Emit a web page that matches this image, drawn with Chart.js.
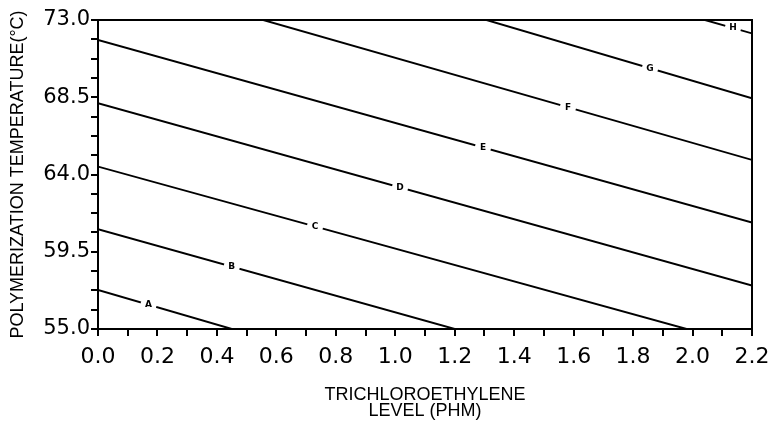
<!DOCTYPE html>
<html>

<head>
  <title>Polymerization temperature vs trichloroethylene level</title>
  <script src="https://cdn.jsdelivr.net/npm/chart.js"></script>
  <style>
    body { margin: 0; background: #fff; }
  </style>
</head>

<body>
  <canvas id="myChart" width="773" height="421"></canvas>
  <script>

    // contour lines A..H, each a straight segment from start to end point
    let curveNames = ['A', 'B', 'C', 'D', 'E', 'F', 'G', 'H'];
    let lineStartX = [0.0, 0.0, 0.0, 0.0, 0.0, 0.556, 1.307, 2.042];
    let lineStartY = [57.27, 60.81, 64.46, 68.15, 71.84, 73.0, 73.0, 73.0];
    let lineEndX = [0.45, 1.20, 1.98, 2.2, 2.2, 2.2, 2.2, 2.2];
    let lineEndY = [55.0, 55.0, 55.0, 57.53, 61.2, 64.85, 68.44, 72.22];
    // where along x each letter sits on its line
    let labelAtX = [0.17, 0.45, 0.73, 1.016, 1.295, 1.581, 1.857, 2.136];

    let xTickLabels = ['0.0', '0.2', '0.4', '0.6', '0.8', '1.0', '1.2', '1.4', '1.6', '1.8', '2.0', '2.2'];
    let yTickLabels = ['55.0', '59.5', '64.0', '68.5', '73.0'];

    let datasets = curveNames.map((name, i) => ({
      label: name,
      data: [{ x: lineStartX[i], y: lineStartY[i] }, { x: lineEndX[i], y: lineEndY[i] }],
      showLine: true,
      borderColor: '#000',
      borderWidth: 1.9,
      pointRadius: 0,
      fill: false
    }));

    // letters on the lines, with a small gap cut out around each one
    let lineLabels = {
      id: 'lineLabels',
      afterDatasetsDraw(chart) {
        let ctx = chart.ctx;
        let xs = chart.scales.x, ys = chart.scales.y;
        ctx.save();
        curveNames.forEach((name, i) => {
          let t = (labelAtX[i] - lineStartX[i]) / (lineEndX[i] - lineStartX[i]);
          let yv = lineStartY[i] + t * (lineEndY[i] - lineStartY[i]);
          let px = xs.getPixelForValue(labelAtX[i]);
          let py = ys.getPixelForValue(yv);
          let angle = Math.atan2(
            ys.getPixelForValue(lineEndY[i]) - ys.getPixelForValue(lineStartY[i]),
            xs.getPixelForValue(lineEndX[i]) - xs.getPixelForValue(lineStartX[i]));
          ctx.save();
          ctx.translate(px, py);
          ctx.rotate(angle);
          ctx.fillStyle = '#fff';
          ctx.fillRect(-8, -4, 16, 8);
          ctx.restore();
          ctx.fillStyle = '#000';
          ctx.font = 'bold 9px "DejaVu Sans"';
          ctx.textAlign = 'center';
          ctx.textBaseline = 'middle';
          ctx.fillText(name, px, py);
        });
        ctx.restore();
      }
    };

    // top and right edges of the plot frame
    let frame = {
      id: 'frame',
      afterDraw(chart) {
        let { left, right, top, bottom } = chart.chartArea;
        let ctx = chart.ctx;
        ctx.save();
        ctx.strokeStyle = '#000';
        ctx.lineWidth = 2;
        ctx.beginPath();
        ctx.moveTo(left, top);
        ctx.lineTo(right, top);
        ctx.lineTo(right, bottom);
        ctx.stroke();
        ctx.restore();
      }
    };

    let ctx = document.getElementById('myChart').getContext('2d');
    let myChart = new Chart(ctx, {
      type: 'scatter',
      data: { datasets: datasets },
      plugins: [lineLabels, frame],
      options: {
        responsive: false,
        animation: false,
        layout: { padding: { top: 20, right: 21, left: 0, bottom: 0 } },
        plugins: {
          legend: { display: false },
          tooltip: { enabled: false }
        },
        scales: {
          x: {
            type: 'linear',
            min: 0,
            max: 2.2,
            afterFit(scale) {
              scale.height = 92;
              scale.paddingLeft = 0;
              scale.paddingRight = 0;
            },
            border: { display: true, color: '#000', width: 2 },
            grid: { drawOnChartArea: false, drawTicks: true, tickLength: 7, lineWidth: 2, color: '#000' },
            ticks: {
              stepSize: 0.1,
              autoSkip: false,
              maxTicksLimit: 30,
              maxRotation: 0,
              padding: 8,
              color: '#000',
              font: { family: '"DejaVu Sans"', size: 22 },
              callback: (value, index) => index % 2 === 0 ? xTickLabels[index / 2] : ''
            },
            title: {
              display: true,
              text: ['TRICHLOROETHYLENE', 'LEVEL (PHM)'],
              color: '#000',
              font: { family: '"Liberation Sans"', size: 18, lineHeight: 0.9 },
              padding: { top: 0, bottom: 2 }
            }
          },
          y: {
            min: 55,
            max: 73,
            afterFit(scale) { scale.width = 98; },
            border: { display: true, color: '#000', width: 2 },
            grid: { drawOnChartArea: false, drawTicks: true, tickLength: 7, lineWidth: 2, color: '#000' },
            ticks: {
              stepSize: 1.125,
              autoSkip: false,
              maxTicksLimit: 30,
              padding: 1,
              color: '#000',
              font: { family: '"DejaVu Sans"', size: 21 },
              callback: (value, index) => index % 4 === 0 ? yTickLabels[index / 4] : ''
            },
            title: {
              display: true,
              text: 'POLYMERIZATION TEMPERATURE(°C)',
              color: '#000',
              font: { family: '"Liberation Sans"', size: 18 },
              padding: { top: 7, bottom: 0 }
            }
          }
        }
      }
    });

  </script>
</body>

</html>
